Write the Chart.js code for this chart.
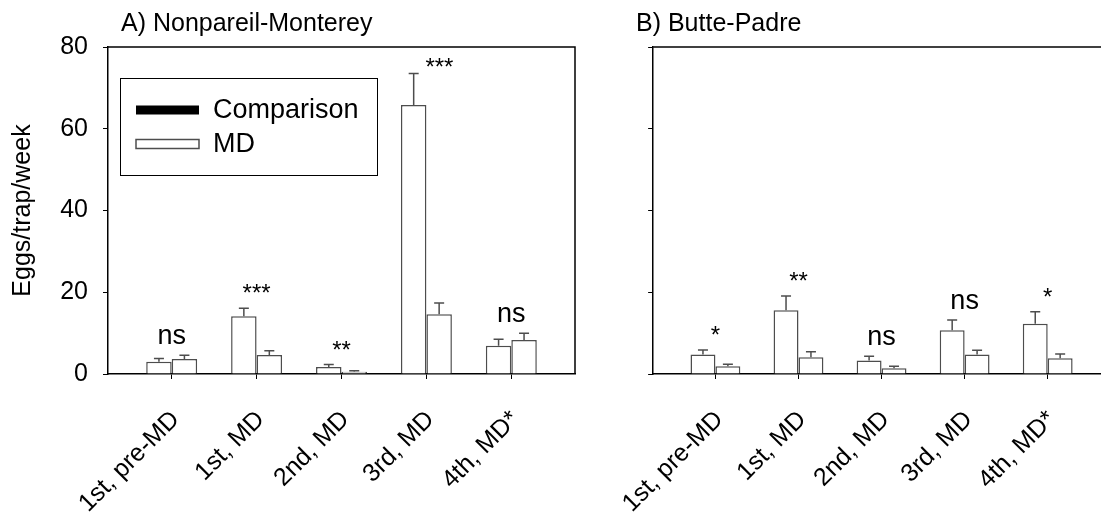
<!DOCTYPE html>
<html>
<head>
<meta charset="utf-8">
<script src="https://cdn.jsdelivr.net/npm/chart.js@4.4.1/dist/chart.umd.min.js"></script>
<style>
    html, body { margin: 0; padding: 0; background: #fff; overflow: hidden; }
    #wrap { position: relative; width: 1101px; height: 513px; overflow: hidden; }
    #boxA { position: absolute; left: 0; top: 0; width: 600px; height: 513px; }
    #boxB { position: absolute; left: 590px; top: 0; width: 540px; height: 513px; }
</style>
</head>
<body>
<div id="wrap">
    <div id="boxA"><canvas id="chartA"></canvas></div>
    <div id="boxB"><canvas id="chartB"></canvas></div>
</div>
<script>
const periods = ['1st, pre-MD', '1st, MD', '2nd, MD', '3rd, MD', '4th, MD*'];
const periodIdx = [0, 1, 2, 3, 4];
const yTicks = [0, 20, 40, 60, 80];

// A) Nonpareil-Monterey
const compA = [3.0, 14.1, 1.7, 65.8, 6.9];
const compA_se = [0.8, 2.0, 0.6, 7.7, 1.6];
const mdA = [3.7, 4.65, 0.57, 14.6, 8.3];
const mdA_se = [0.9, 1.05, 0.23, 2.8, 1.65];
const sigA = ['ns', '***', '**', '***', 'ns'];

// B) Butte-Padre
const compB = [4.8, 15.6, 3.3, 10.7, 12.3];
const compB_se = [1.05, 3.5, 1.05, 2.5, 2.9];
const mdB = [1.87, 4.07, 1.39, 4.8, 3.83];
const mdB_se = [0.5, 1.4, 0.5, 1.0, 1.05];
const sigB = ['*', '**', 'ns', 'ns', '*'];

const FONT = '"Liberation Sans", Arial, sans-serif';

function points(vals) {
    return periodIdx.map((x, i) => ({ x: x, y: vals[i] }));
}

// upper SE whiskers with a cap
const errBars = {
    id: 'errBars',
    afterDatasetsDraw(chart) {
        const ctx = chart.ctx;
        const y = chart.scales.y;
        ctx.save();
        ctx.strokeStyle = '#4d4d4d';
        ctx.lineWidth = 1.5;
        chart.data.datasets.forEach((ds, d) => {
            chart.getDatasetMeta(d).data.forEach((bar, i) => {
                const top = y.getPixelForValue(ds.data[i].y + ds.se[i]);
                ctx.beginPath();
                ctx.moveTo(bar.x, bar.y);
                ctx.lineTo(bar.x, top);
                ctx.moveTo(bar.x - 5, top);
                ctx.lineTo(bar.x + 5, top);
                ctx.stroke();
            });
        });
        ctx.restore();
    }
};

// ns / * marks over each pair of bars
const sigMarks = {
    id: 'sigMarks',
    afterDatasetsDraw(chart, args, opts) {
        const ctx = chart.ctx;
        const x = chart.scales.x, y = chart.scales.y;
        const area = chart.chartArea;
        ctx.save();
        ctx.fillStyle = '#000';
        ctx.textAlign = 'center';
        ctx.textBaseline = 'alphabetic';
        opts.labels.forEach((s, i) => {
            const hi = Math.max(...chart.data.datasets.map(ds => ds.data[i].y + ds.se[i]));
            const py = y.getPixelForValue(hi);
            let cx = x.getPixelForValue(periodIdx[i]);
            if (s === 'ns') {
                ctx.font = '27px ' + FONT;
                ctx.fillText(s, cx, py - 11);
            } else {
                ctx.font = '24px ' + FONT;
                let by = py - 7;
                if (by < area.top + 28) {
                    // no room above the whisker: put it beside
                    by = area.top + 28;
                    cx += 13;
                }
                ctx.fillText(s, cx, by);
            }
        });
        ctx.restore();
    }
};

// box around the plot / panel title / boxed legend
const frame = {
    id: 'frame',
    afterDraw(chart, args, opts) {
        const ctx = chart.ctx;
        const a = chart.chartArea;
        ctx.save();
        ctx.strokeStyle = '#000';
        ctx.lineWidth = 1.5;
        ctx.beginPath();
        ctx.moveTo(a.left, a.top);
        ctx.lineTo(a.right, a.top);
        if (opts.right) ctx.lineTo(a.right, a.bottom);
        ctx.stroke();

        ctx.fillStyle = '#000';
        ctx.font = '25px ' + FONT;
        ctx.textAlign = 'left';
        ctx.textBaseline = 'alphabetic';
        ctx.fillText(opts.title, opts.titleX, 31);

        if (opts.legend) {
            const lx = a.left + 12, ly = a.top + 31;
            ctx.lineWidth = 1;
            ctx.strokeRect(lx + 0.5, ly + 0.5, 257, 97);
            const fills = ['#000', '#fff'];
            ctx.font = '27px ' + FONT;
            ctx.textBaseline = 'middle';
            chart.data.datasets.forEach((ds, i) => {
                const cy = ly + 32 + i * 34;
                ctx.fillStyle = fills[i];
                ctx.fillRect(lx + 16, cy - 4.5, 63, 9);
                if (i > 0) {
                    ctx.strokeStyle = '#4d4d4d';
                    ctx.lineWidth = 1.5;
                    ctx.strokeRect(lx + 16, cy - 4.5, 63, 9);
                }
                ctx.fillStyle = '#000';
                ctx.fillText(ds.label, lx + 93, cy + 1);
            });
        }
        ctx.restore();
    }
};

function makeChart(id, comp, compSe, md, mdSe, sig, cfg) {
    const ctx = document.getElementById(id).getContext('2d');
    return new Chart(ctx, {
        type: 'bar',
        data: {
            datasets: [{
                label: 'Comparison',
                data: points(comp),
                se: compSe,
                backgroundColor: '#fff',
                borderColor: '#4d4d4d',
                borderWidth: 1.5
            }, {
                label: 'MD',
                data: points(md),
                se: mdSe,
                backgroundColor: '#fff',
                borderColor: '#4d4d4d',
                borderWidth: 1.5
            }]
        },
        options: {
            responsive: true,
            maintainAspectRatio: false,
            animation: false,
            categoryPercentage: 0.6,
            barPercentage: 1.0,
            layout: { padding: { top: 47, right: cfg.padRight, left: 0, bottom: 0 } },
            scales: {
                x: {
                    type: 'linear',
                    min: -0.75,
                    max: 4.75,
                    bounds: 'data',
                    offset: false,
                    afterBuildTicks: s => { s.ticks = periodIdx.map(v => ({ value: v })); },
                    afterFit: s => { s.height = 139; },
                    grid: { offset: false, drawOnChartArea: false, drawTicks: true, tickLength: 5, color: '#000', lineWidth: 1 },
                    border: { color: '#000', width: 1.5 },
                    ticks: {
                        autoSkip: false,
                        minRotation: 45,
                        maxRotation: 45,
                        padding: 26,
                        labelOffset: 4,
                        color: '#000',
                        font: { family: FONT, size: 25 },
                        callback: (v, i) => periods[i]
                    }
                },
                y: {
                    min: 0,
                    max: 80,
                    afterBuildTicks: s => { s.ticks = yTicks.map(v => ({ value: v })); },
                    afterFit: s => { s.width = cfg.yWidth; },
                    grid: { drawOnChartArea: false, drawTicks: true, tickLength: 5, color: '#000', lineWidth: 1 },
                    border: { color: '#000', width: 1.5 },
                    title: {
                        display: cfg.yTitle,
                        text: 'Eggs/trap/week',
                        color: '#000',
                        font: { family: FONT, size: 25 },
                        padding: { top: 8, bottom: 0 }
                    },
                    ticks: {
                        display: cfg.yTitle,
                        padding: 15,
                        color: '#000',
                        font: { family: FONT, size: 25 }
                    }
                }
            },
            plugins: {
                legend: { display: false },
                tooltip: { enabled: false },
                sigMarks: { labels: sig },
                frame: { title: cfg.title, titleX: cfg.titleX, right: cfg.right, legend: cfg.legend }
            }
        },
        plugins: [errBars, sigMarks, frame]
    });
}

makeChart('chartA', compA, compA_se, mdA, mdA_se, sigA, {
    padRight: 25, yWidth: 108, yTitle: true, title: 'A) Nonpareil-Monterey', titleX: 121, right: true, legend: true
});
makeChart('chartB', compB, compB_se, mdB, mdB_se, sigB, {
    padRight: 20, yWidth: 52, yTitle: false, title: 'B) Butte-Padre', titleX: 46, right: false, legend: false
});
</script>
</body>
</html>
